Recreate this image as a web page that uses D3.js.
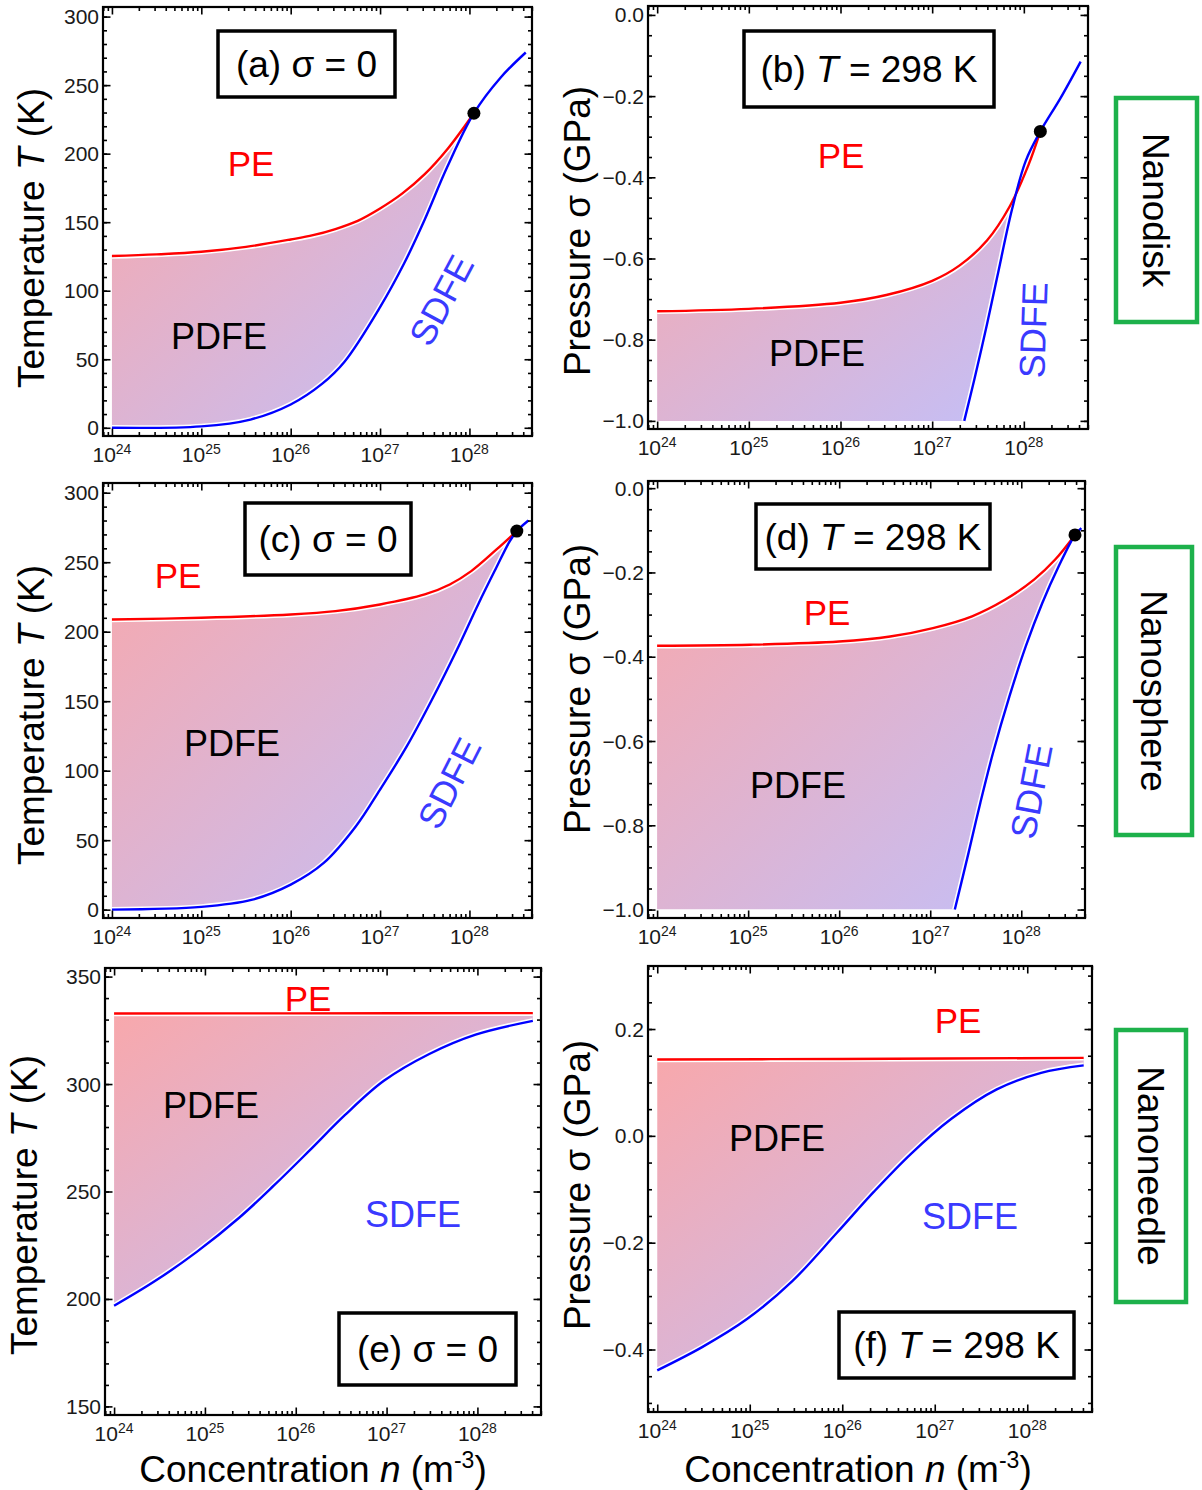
<!DOCTYPE html>
<html><head><meta charset="utf-8">
<script src="https://cdn.jsdelivr.net/npm/d3@7"></script>
<style>
body{margin:0;background:#fff}
svg{display:block;font-family:"Liberation Sans",Arial,Helvetica,sans-serif}
</style>
</head><body>
<svg id="chart" width="1202" height="1490"></svg>
<script>
// ---------------- DATA (exponent of n in m^-3, and T in K or sigma in GPa) ----------------
const xMajorExps = [24, 25, 26, 27, 28];

// (a) nanodisk, sigma = 0
const aRedExp  = [24.0, 24.5, 25.0, 25.5, 26.0, 26.25, 26.5, 26.75, 27.0, 27.25, 27.5, 27.75, 28.05];
const aRedT    = [125.3, 126.5, 128.4, 132, 137.4, 140.5, 145, 151, 160, 171, 185, 203, 229.5];
const aBlueExp = [24.0, 25.0, 25.55, 26.0, 26.35, 26.6, 27.0, 27.27, 27.5, 27.75, 28.05, 28.35, 28.63];
const aBlueT   = [0, 1, 6, 17, 32, 48, 88, 120, 152, 190, 229.5, 255.6, 273.8];
const aDot     = [28.05, 229.5];

// (b) nanodisk, T = 298 K
const bRedExp  = [24.0, 25.0, 26.0, 26.5, 27.0, 27.3, 27.6, 27.85, 28.05, 28.18];
const bRedS    = [-0.73, -0.724, -0.709, -0.69, -0.655, -0.617, -0.555, -0.47, -0.37, -0.287];
const bBlueExp = [27.35, 27.46, 27.6, 27.71, 27.87, 28.02, 28.18, 28.4, 28.62];
const bBlueS   = [-1.0, -0.898, -0.76, -0.645, -0.48, -0.36, -0.287, -0.205, -0.115];
const bDot     = [28.18, -0.287];

// (c) nanosphere, sigma = 0
const cRedExp  = [24.0, 25.0, 26.0, 26.5, 27.0, 27.5, 27.78, 28.02, 28.3, 28.53];
const cRedT    = [208.8, 210, 212.4, 214.8, 219.6, 226.8, 234, 243.6, 259, 272.4];
const cBlueExp = [24.0, 25.0, 25.56, 26.0, 26.37, 26.73, 27.0, 27.3, 27.58, 27.86, 28.1, 28.3, 28.45, 28.53, 28.66];
const cBlueT   = [0, 2, 7, 18, 33.6, 60, 86.4, 117.6, 151, 187, 220, 246, 265, 272.4, 280];
const cDot     = [28.53, 272.4];

// (d) nanosphere, T = 298 K
const dRedExp  = [24.0, 25.02, 26.0, 26.56, 27.03, 27.46, 27.82, 28.14, 28.37, 28.59];
const dRedS    = [-0.374, -0.3715, -0.364, -0.352, -0.332, -0.304, -0.265, -0.217, -0.17, -0.111];
const dBlueExp = [27.27, 27.42, 27.55, 27.69, 27.87, 28.05, 28.23, 28.41, 28.59, 28.66];
const dBlueS   = [-1.0, -0.866, -0.747, -0.628, -0.494, -0.375, -0.273, -0.186, -0.111, -0.095];
const dDot     = [28.59, -0.111];

// (e) nanoneedle, sigma = 0
const eRedExp  = [24.0, 26.0, 28.61];
const eRedT    = [332.8, 332.9, 333.0];
const eBlueExp = [24.0, 24.45, 24.91, 25.38, 25.76, 26.15, 26.54, 26.97, 27.47, 27.98, 28.61];
const eBlueT   = [196.8, 208.3, 221.9, 237.9, 252.8, 269, 285.5, 301.5, 314, 323, 329.4];

// (f) nanoneedle, T = 298 K
const fRedExp  = [24.0, 26.0, 28.61];
const fRedS    = [0.143, 0.144, 0.146];
const fBlueExp = [24.0, 24.49, 24.97, 25.46, 25.94, 26.34, 26.74, 27.18, 27.67, 28.15, 28.61];
const fBlueS   = [-0.439, -0.395, -0.343, -0.272, -0.182, -0.105, -0.034, 0.032, 0.087, 0.118, 0.132];

// tick labels
const tTicksAC = [0, 50, 100, 150, 200, 250, 300];
const sTicksBD = [0.0, -0.2, -0.4, -0.6, -0.8, -1.0];
const tTicksE  = [150, 200, 250, 300, 350];
const sTicksF  = [0.2, 0.0, -0.2, -0.4];

// ---------------- LAYOUT ----------------
const svg = d3.select("#chart");
const defs = svg.append("defs");
const grad = defs.append("linearGradient").attr("id", "pd")
  .attr("x1", 0).attr("y1", 0).attr("x2", 1).attr("y2", 1);
grad.append("stop").attr("offset", "0%").attr("stop-color", "#f8a8ac");
grad.append("stop").attr("offset", "100%").attr("stop-color", "#c2c0fa");

const XDOM = [Math.pow(10, 23.9), Math.pow(10, 28.7)];
const fmtSigned = v => (v < 0 ? "\u2212" : "") + Math.abs(v).toFixed(1);

function zip(ex, ys) { return ex.map((e, i) => [Math.pow(10, e), ys[i]]); }

let clipCount = 0;
function panel(cfg) {
  const x = d3.scaleLog().domain(XDOM).range([cfg.x0, cfg.x1]);
  const y = d3.scaleLinear().domain(cfg.yDom).range([cfg.y1, cfg.y0]);
  const g = svg.append("g");
  const red = zip(cfg.redExp, cfg.redY);
  const blue = zip(cfg.blueExp, cfg.blueY);
  const curve = d3.curveCatmullRom.alpha(0.5);
  const line = d3.line().x(d => x(d[0])).y(d => y(d[1])).curve(curve);
  const base = blue[0][1];
  const area = d3.area().x(d => x(d[0])).y0(y(base)).y1(d => y(d[1])).curve(curve);

  // clip: region above the blue (SDFE) boundary
  const cid = "clip" + (clipCount++);
  const bl = line(blue);
  const clipD = `M${x(red[0][0]) - 30},${y(base)}L` + bl.slice(1) +
    `L${cfg.x1 + 20},${cfg.y0 - 20}L${cfg.x0 - 30},${cfg.y0 - 20}Z`;
  defs.append("clipPath").attr("id", cid).append("path").attr("d", clipD);

  g.append("path").attr("d", area(red)).attr("fill", "url(#pd)").attr("clip-path", `url(#${cid})`);

  // white halos then colored boundary lines
  g.append("path").attr("d", line(red)).attr("fill", "none").attr("stroke", "#fff").attr("stroke-width", 5.5);
  g.append("path").attr("d", bl).attr("fill", "none").attr("stroke", "#fff").attr("stroke-width", 5.5);
  g.append("path").attr("d", line(red)).attr("fill", "none").attr("stroke", "#ff0000").attr("stroke-width", 2.4);
  g.append("path").attr("d", bl).attr("fill", "none").attr("stroke", "#0000ff").attr("stroke-width", 2.4);

  if (cfg.dot) {
    g.append("circle").attr("cx", x(Math.pow(10, cfg.dot[0]))).attr("cy", y(cfg.dot[1]))
      .attr("r", 6.5).attr("fill", "#000");
  }

  // axes (ticks inward on all four sides)
  const majX = xMajorExps.map(e => Math.pow(10, e));
  const minX = [];
  for (let e = 23; e <= 28; e++) for (let k = 2; k <= 9; k++) {
    const v = k * Math.pow(10, e);
    if (v > XDOM[0] && v < XDOM[1]) minX.push(v);
  }
  const [ya, yb] = cfg.yDom;
  const minY = [];
  const st = cfg.yMinor;
  for (let v = Math.ceil(ya / st) * st; v <= yb + 1e-9; v += st) minY.push(+v.toFixed(4));
  const axes = [
    [d3.axisBottom(x), `translate(0,${cfg.y1})`, majX, minX],
    [d3.axisTop(x), `translate(0,${cfg.y0})`, majX, minX],
    [d3.axisLeft(y), `translate(${cfg.x0},0)`, cfg.yTicks, minY],
    [d3.axisRight(y), `translate(${cfg.x1},0)`, cfg.yTicks, minY]
  ];
  axes.forEach(([ax, tr, maj, mn]) => {
    const a1 = g.append("g").attr("transform", tr).call(ax.tickValues(mn).tickSize(-4).tickFormat(""));
    a1.select(".domain").remove();
    const a2 = g.append("g").attr("transform", tr).call(ax.tickValues(maj).tickSize(-7.5).tickFormat(""));
    a2.select(".domain").remove();
    g.selectAll(".tick line").attr("stroke", "#000").attr("stroke-width", 1.6);
  });

  g.append("rect").attr("x", cfg.x0).attr("y", cfg.y0)
    .attr("width", cfg.x1 - cfg.x0).attr("height", cfg.y1 - cfg.y0)
    .attr("fill", "none").attr("stroke", "#000").attr("stroke-width", 2.2);

  // x tick labels 10^k
  xMajorExps.forEach(e => {
    const t = g.append("text").attr("x", x(Math.pow(10, e))).attr("y", cfg.y1 + 26)
      .attr("text-anchor", "middle").attr("fill", "#1a1a1a").attr("font-size", 21);
    t.append("tspan").text("10");
    t.append("tspan").attr("dy", -8).attr("font-size", 14).text(e);
  });
  // y tick labels
  cfg.yTicks.forEach(v => {
    g.append("text").attr("x", cfg.x0 - 4).attr("y", y(v) + 7.5)
      .attr("text-anchor", "end").attr("fill", "#1a1a1a").attr("font-size", 21)
      .text(cfg.yFmt(v));
  });

  // label box
  const b = cfg.box;
  g.append("rect").attr("x", b.x).attr("y", b.y).attr("width", b.w).attr("height", b.h)
    .attr("fill", "#fff").attr("stroke", "#000").attr("stroke-width", 3.5);
  const bt = g.append("text").attr("x", b.x + b.w / 2).attr("y", b.y + b.h / 2 + 13)
    .attr("text-anchor", "middle").attr("font-size", 37).attr("fill", "#000");
  b.parts.forEach(p => {
    const s = bt.append("tspan").text(p[0]);
    if (p[1]) s.attr("font-style", "italic");
  });

  // region labels
  cfg.labels.forEach(L => {
    g.append("text").attr("transform", `translate(${L.x},${L.y}) rotate(${L.r || 0})`)
      .attr("text-anchor", "middle").attr("dy", "0.36em")
      .attr("font-size", L.fs || 36).attr("fill", L.c).text(L.t);
  });

  // y title
  const yt = g.append("text").attr("transform", `translate(${cfg.yTitle[0]},${cfg.yTitle[1]}) rotate(-90)`)
    .attr("text-anchor", "middle").attr("font-size", 37).attr("fill", "#000");
  cfg.yTitleParts.forEach(p => {
    const s = yt.append("tspan").text(p[0]);
    if (p[1]) s.attr("font-style", "italic");
  });
  return {x, y};
}

const tempTitle = [["Temperature "], ["T", true], [" (K)"]];
const presTitle = [["Pressure \u03c3 (GPa)"]];
const PEc = "#ff0000", SDc = "#3a3aff";

panel({x0: 103, x1: 532, y0: 7, y1: 436, yDom: [-6, 307], yTicks: tTicksAC, yMinor: 10, yFmt: v => v,
  redExp: aRedExp, redY: aRedT, blueExp: aBlueExp, blueY: aBlueT, dot: aDot,
  box: {x: 218, y: 31, w: 177, h: 66, parts: [["(a) \u03c3 = 0"]]},
  labels: [{t: "PE", x: 251, y: 163, c: PEc, fs: 35}, {t: "PDFE", x: 219, y: 336, c: "#000"},
           {t: "SDFE", x: 441, y: 300, c: SDc, r: -62}],
  yTitle: [44, 238], yTitleParts: tempTitle});

panel({x0: 648, x1: 1088, y0: 6, y1: 429, yDom: [-1.02, 0.022], yTicks: sTicksBD, yMinor: 0.05, yFmt: fmtSigned,
  redExp: bRedExp, redY: bRedS, blueExp: bBlueExp, blueY: bBlueS, dot: bDot,
  box: {x: 744, y: 31, w: 250, h: 76, parts: [["(b)  "], ["T", true], [" = 298 K"]]},
  labels: [{t: "PE", x: 841, y: 155, c: PEc, fs: 35}, {t: "PDFE", x: 817, y: 353, c: "#000"},
           {t: "SDFE", x: 1033, y: 330, c: SDc, r: -88}],
  yTitle: [590, 231], yTitleParts: presTitle});

panel({x0: 103, x1: 532, y0: 483, y1: 918, yDom: [-6, 307], yTicks: tTicksAC, yMinor: 10, yFmt: v => v,
  redExp: cRedExp, redY: cRedT, blueExp: cBlueExp, blueY: cBlueT, dot: cDot,
  box: {x: 245, y: 503, w: 166, h: 72, parts: [["(c) \u03c3 = 0"]]},
  labels: [{t: "PE", x: 178, y: 575, c: PEc, fs: 35}, {t: "PDFE", x: 232, y: 743, c: "#000"},
           {t: "SDFE", x: 449, y: 783, c: SDc, r: -63}],
  yTitle: [44, 715], yTitleParts: tempTitle});

panel({x0: 648, x1: 1085, y0: 481, y1: 918, yDom: [-1.02, 0.017], yTicks: sTicksBD, yMinor: 0.05, yFmt: fmtSigned,
  redExp: dRedExp, redY: dRedS, blueExp: dBlueExp, blueY: dBlueS, dot: dDot,
  box: {x: 756, y: 504, w: 234, h: 65, parts: [["(d) "], ["T", true], [" = 298 K"]]},
  labels: [{t: "PE", x: 827, y: 612, c: PEc, fs: 35}, {t: "PDFE", x: 798, y: 785, c: "#000"},
           {t: "SDFE", x: 1031, y: 791, c: SDc, r: -79}],
  yTitle: [590, 689], yTitleParts: presTitle});

panel({x0: 105, x1: 541, y0: 968, y1: 1415, yDom: [146, 354], yTicks: tTicksE, yMinor: 10, yFmt: v => v,
  redExp: eRedExp, redY: eRedT, blueExp: eBlueExp, blueY: eBlueT,
  box: {x: 339, y: 1313, w: 177, h: 72, parts: [["(e) \u03c3 = 0"]]},
  labels: [{t: "PE", x: 308, y: 998, c: PEc, fs: 35}, {t: "PDFE", x: 211, y: 1105, c: "#000"},
           {t: "SDFE", x: 413, y: 1214, c: SDc}],
  yTitle: [37, 1205], yTitleParts: tempTitle});

panel({x0: 648, x1: 1092, y0: 966, y1: 1412, yDom: [-0.517, 0.318], yTicks: sTicksF, yMinor: 0.05, yFmt: fmtSigned,
  redExp: fRedExp, redY: fRedS, blueExp: fBlueExp, blueY: fBlueS,
  box: {x: 839, y: 1312, w: 235, h: 66, parts: [["(f)  "], ["T", true], [" = 298 K"]]},
  labels: [{t: "PE", x: 958, y: 1020, c: PEc, fs: 35}, {t: "PDFE", x: 777, y: 1138, c: "#000"},
           {t: "SDFE", x: 970, y: 1216, c: SDc}],
  yTitle: [590, 1185], yTitleParts: presTitle});

// x titles
[[313, 1482], [858, 1482]].forEach(([cx, cy]) => {
  const t = svg.append("text").attr("x", cx).attr("y", cy).attr("text-anchor", "middle")
    .attr("font-size", 37).attr("fill", "#000");
  t.append("tspan").text("Concentration ");
  t.append("tspan").attr("font-style", "italic").text("n");
  t.append("tspan").text(" (m");
  t.append("tspan").attr("dy", -14).attr("font-size", 23).text("-3");
  t.append("tspan").attr("dy", 14).text(")");
});

// green shape boxes
const shapes = [
  {t: "Nanodisk", x: 1116, y: 98, w: 81, h: 224},
  {t: "Nanosphere", x: 1116, y: 547, w: 76, h: 288},
  {t: "Nanoneedle", x: 1116, y: 1030, w: 70, h: 272}
];
shapes.forEach(s => {
  svg.append("rect").attr("x", s.x).attr("y", s.y).attr("width", s.w).attr("height", s.h)
    .attr("fill", "#fff").attr("stroke", "#1db14b").attr("stroke-width", 4.5);
  svg.append("text").attr("transform", `translate(${s.x + s.w / 2},${s.y + s.h / 2}) rotate(90)`)
    .attr("text-anchor", "middle").attr("dy", "0.36em").attr("font-size", 37).attr("fill", "#000").text(s.t);
});
</script>
</body></html>
